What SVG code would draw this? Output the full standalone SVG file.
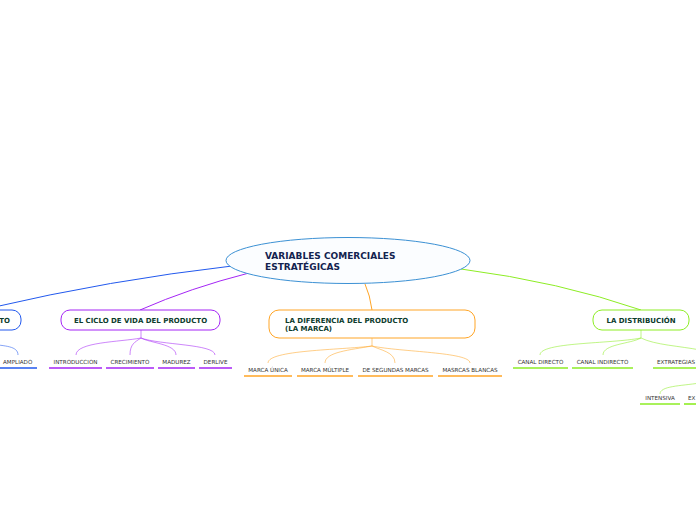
<svg xmlns="http://www.w3.org/2000/svg" width="696" height="520" viewBox="0 0 696 520">
<style>
.nt{font-family:"DejaVu Sans",Verdana,sans-serif;font-weight:bold;font-size:7px;fill:#0c3b2c}
.rt{font-family:"DejaVu Sans",Verdana,sans-serif;font-weight:bold;font-size:9px;fill:#13234f}
.lt{font-family:"DejaVu Sans",Verdana,sans-serif;font-size:5.6px;fill:#333}
.c{fill:none;stroke-width:1}
.s{fill:none;stroke-width:1;opacity:0.55}
.u{stroke-width:1.6}
.blue{stroke:#2259ee}
.pur{stroke:#a425f5}
.ora{stroke:#ffa526}
.grn{stroke:#8ded24}
.box{fill:#fff;stroke-width:1}
</style>
<rect width="696" height="520" fill="#fff"/>
<g id="connectors">
<path class="c blue" d="M232,266 Q110,280 -10,308"/>
<path class="c pur" d="M249,273 Q190,288 140,310"/>
<path class="c ora" d="M365,284 Q370,295 372,310"/>
<path class="c grn" d="M461,269 Q560,282 641,310"/>
<path class="s blue" d="M-10,344 C5,346 18,346 18,355"/>
<path class="s pur" d="M141,330 L141,338 C120,342 76,342 76,355"/>
<path class="s pur" d="M141,338 C135,342 130,344 130,355"/>
<path class="s pur" d="M141,338 C150,343 176,344 176,355"/>
<path class="s pur" d="M141,338 C160,345 215,344 215,355"/>
<path class="s ora" d="M372,338 L372,346 C340,350 268,350 268,363"/>
<path class="s ora" d="M372,346 C350,350 325,352 325,363"/>
<path class="s ora" d="M372,346 C380,350 395,352 395,363"/>
<path class="s ora" d="M372,346 C400,352 470,352 470,363"/>
<path class="s grn" d="M641,330 L641,338 C610,344 540,342 540,355"/>
<path class="s grn" d="M641,338 C630,344 603,344 603,355"/>
<path class="s grn" d="M641,338 C655,345 680,346 700,350"/>
<path class="s grn" d="M700,383 C680,386 660,386 660,394"/>
</g>
<g id="root">
<ellipse cx="348" cy="260.5" rx="122" ry="23" fill="#fbfdff" stroke="#3c91d4" stroke-width="1"/>
<text class="rt" x="265" y="259">VARIABLES COMERCIALES</text>
<text class="rt" x="265" y="270">ESTRATÉGICAS</text>
</g>
<g id="n-producto">
<rect class="box blue" x="-80" y="310" width="101" height="20" rx="9"/>
<text class="nt" x="10" y="322.5" text-anchor="end">TO</text>
</g>
<g id="n-ampliado">
<text class="lt" x="3" y="364">AMPLIADO</text>
<line class="u blue" x1="-2" y1="368" x2="37" y2="368"/>
</g>
<g id="n-ciclo">
<rect class="box pur" x="61" y="310" width="159" height="20" rx="9"/>
<text class="nt" x="140.5" y="322.5" text-anchor="middle">EL CICLO DE VIDA DEL PRODUCTO</text>
</g>
<g id="n-intro"><text class="lt" x="75.5" y="364" text-anchor="middle">INTRODUCCION</text><line class="u pur" x1="49" y1="368" x2="102" y2="368"/></g>
<g id="n-crec"><text class="lt" x="130" y="364" text-anchor="middle">CRECIMIENTO</text><line class="u pur" x1="106" y1="368" x2="154" y2="368"/></g>
<g id="n-mad"><text class="lt" x="176.5" y="364" text-anchor="middle">MADUREZ</text><line class="u pur" x1="158" y1="368" x2="195" y2="368"/></g>
<g id="n-der"><text class="lt" x="215.5" y="364" text-anchor="middle">DERLIVE</text><line class="u pur" x1="199" y1="368" x2="232" y2="368"/></g>
<g id="n-marca">
<rect class="box ora" x="269" y="310" width="206" height="28" rx="10"/>
<text class="nt" x="285" y="322.5">LA DIFERENCIA DEL PRODUCTO</text>
<text class="nt" x="285" y="331">(LA MARCA)</text>
</g>
<g id="n-unica"><text class="lt" x="268" y="372" text-anchor="middle">MARCA ÚNICA</text><line class="u ora" x1="244" y1="376" x2="292" y2="376"/></g>
<g id="n-multiple"><text class="lt" x="325" y="372" text-anchor="middle">MARCA MÚLTIPLE</text><line class="u ora" x1="297" y1="376" x2="353" y2="376"/></g>
<g id="n-segundas"><text class="lt" x="395.5" y="372" text-anchor="middle">DE SEGUNDAS MARCAS</text><line class="u ora" x1="358" y1="376" x2="433" y2="376"/></g>
<g id="n-blancas"><text class="lt" x="470" y="372" text-anchor="middle">MASRCAS BLANCAS</text><line class="u ora" x1="438" y1="376" x2="502" y2="376"/></g>
<g id="n-dist">
<rect class="box grn" x="593" y="310" width="96" height="20" rx="9"/>
<text class="nt" x="641" y="322.5" text-anchor="middle">LA DISTRIBUCIÓN</text>
</g>
<g id="n-directo"><text class="lt" x="540.5" y="364" text-anchor="middle">CANAL DIRECTO</text><line class="u grn" x1="513" y1="368" x2="568" y2="368"/></g>
<g id="n-indirecto"><text class="lt" x="602.5" y="364" text-anchor="middle">CANAL INDIRECTO</text><line class="u grn" x1="572" y1="368" x2="633" y2="368"/></g>
<g id="n-extrategias"><text class="lt" x="657" y="364">EXTRATEGIAS</text><line class="u grn" x1="653" y1="368" x2="700" y2="368"/></g>
<g id="n-intensiva"><text class="lt" x="660" y="400" text-anchor="middle">INTENSIVA</text><line class="u grn" x1="640" y1="404" x2="680" y2="404"/></g>
<g id="n-ex"><text class="lt" x="688" y="400">EX</text><line class="u grn" x1="684" y1="404" x2="700" y2="404"/></g>
</svg>
